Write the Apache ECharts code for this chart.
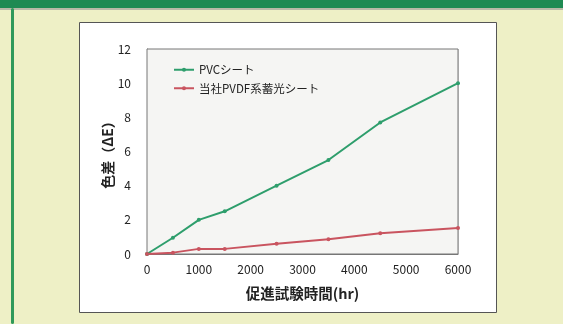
<!DOCTYPE html>
<html><head><meta charset="utf-8">
<script src="https://cdn.jsdelivr.net/npm/echarts@6/dist/echarts.min.js"></script>
<style>html,body{margin:0;padding:0;background:#eef0c6;}#c{width:563px;height:324px;}</style>
</head><body><div id="c"></div>
<script>
const hours = [0, 500, 1000, 1500, 2500, 3500, 4500, 6000];
const pvcValues = [0, 0.95, 2.0, 2.5, 4.0, 5.5, 7.7, 10.0];
const pvdfValues = [0, 0.08, 0.3, 0.3, 0.6, 0.86, 1.22, 1.52];
const seriesNames = ['PVCシート', '当社PVDF系蓄光シート'];
const xAxisTitle = '促進試験時間(hr)';
const yAxisTitle = '色差（ΔE）';

const font = '"Noto Sans CJK JP", "Noto Sans", sans-serif';
const chart = echarts.init(document.getElementById('c'), null, {renderer: 'canvas'});
const pair = (xs, ys) => xs.map((x, i) => [x, ys[i]]);

chart.setOption({
  backgroundColor: '#eef0c6',
  animation: false,
  graphic: [
    {type: 'rect', shape: {x: 0, y: 0, width: 563, height: 8}, style: {fill: '#1f8a52'}, z: 0},
    {type: 'rect', shape: {x: 0, y: 8, width: 563, height: 2}, style: {fill: '#b9b9a6'}, z: 0},
    {type: 'rect', shape: {x: 11, y: 8, width: 3, height: 316, r: 2}, style: {fill: '#2f9a5a'}, z: 0},
    {type: 'rect', shape: {x: 79.5, y: 22.5, width: 417, height: 290}, style: {fill: '#ffffff', stroke: '#555555', lineWidth: 1}, z: 0}
  ],
  grid: {left: 147, top: 49, width: 311, height: 205, show: true, backgroundColor: '#f5f5f3', borderColor: '#777777', borderWidth: 1, z: 1},
  legend: {
    left: 168, top: 59, orient: 'vertical', itemGap: 7, itemWidth: 20, itemHeight: 5,
    textStyle: {fontFamily: font, fontSize: 11.5, color: '#222'},
    data: seriesNames
  },
  xAxis: {
    type: 'value', min: 0, max: 6000, interval: 1000,
    name: xAxisTitle, nameLocation: 'middle', nameGap: 32, nameMoveOverlap: false,
    nameTextStyle: {fontFamily: font, fontSize: 14.5, fontWeight: 'bold', color: '#222'},
    axisLine: {show: true, lineStyle: {color: '#777'}},
    axisTick: {show: false},
    axisLabel: {fontFamily: font, fontSize: 12, color: '#222', margin: 9, formatter: v => String(v)},
    splitLine: {show: true, lineStyle: {color: '#d6d6d6'}}
  },
  yAxis: {
    type: 'value', min: 0, max: 12, interval: 2,
    name: yAxisTitle, nameLocation: 'middle', nameGap: 32, nameRotate: 90, nameMoveOverlap: false,
    nameTextStyle: {fontFamily: font, fontSize: 14, fontWeight: 'bold', color: '#222'},
    axisLine: {show: true, lineStyle: {color: '#777'}},
    axisTick: {show: false},
    axisLabel: {fontFamily: font, fontSize: 12, color: '#222', margin: 16},
    splitLine: {show: true, lineStyle: {color: '#d6d6d6'}}
  },
  series: [
    {name: seriesNames[0], type: 'line', data: pair(hours, pvcValues), color: '#2e9e6c',
     symbol: 'circle', symbolSize: 4, lineStyle: {width: 2}, z: 3},
    {name: seriesNames[1], type: 'line', data: pair(hours, pvdfValues), color: '#c9545f',
     symbol: 'circle', symbolSize: 4, lineStyle: {width: 2}, z: 3}
  ]
});
</script></body></html>
